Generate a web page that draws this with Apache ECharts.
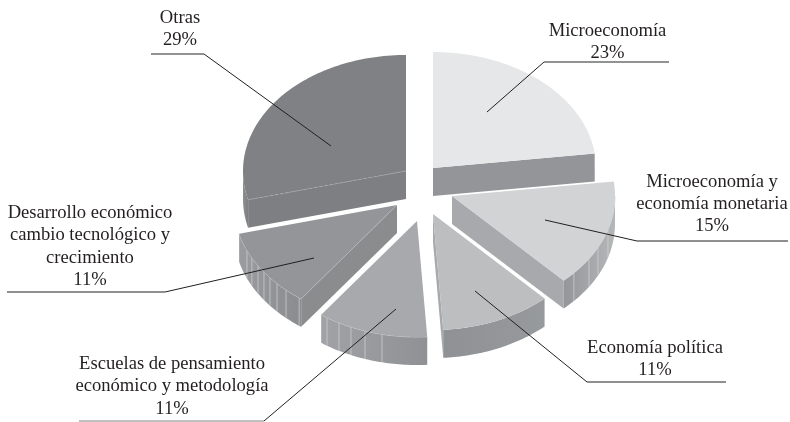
<!DOCTYPE html>
<html>
<head>
<meta charset="utf-8">
<style>html,body{margin:0;padding:0;background:#fff}#chart{width:790px;height:422px}</style>
<script src="https://cdn.jsdelivr.net/npm/echarts@6/dist/echarts.min.js"></script>
</head>
<body>
<div id="chart"></div>
<script>
// clockwise from 12 o'clock
const categories = ["Microeconomía", "Microeconomía y economía monetaria", "Economía política", "Escuelas de pensamiento económico y metodología", "Desarrollo económico cambio tecnológico y crecimiento", "Otras"];
const shares = [23, 15, 11, 11, 11, 29];
const labelLines = [
  ["Microeconomía"],
  ["Microeconomía y", "economía monetaria"],
  ["Economía política"],
  ["Escuelas de pensamiento", "económico y metodología"],
  ["Desarrollo económico", "cambio tecnológico y", "crecimiento"],
  ["Otras"]
];

// look of the tilted pie
const RX = 163, RY = 116, DEPTH = 28;
const apex = [[433, 168], [452, 196], [433, 214], [417, 221], [397, 205], [406, 171]];
const topColors = ["#e6e7e8", "#d1d3d4", "#bcbec0", "#a7a9ac", "#939598", "#808184"];
const cutColors = ["#939598", "#a7a9ac", "#a7a9ac", "#939598", "#8a8c8e", "#7e7f82"];
const arcColors = [["#939598", "#939598"], ["#939598", "#b5b7b9"], ["#8f9194", "#979a9c"], ["#a0a2a5", "#8f9194"], ["#9a9c9f", "#8a8c8e"], ["#8d8e91", "#7e7f82"]];
// seams on the outer wall, degrees clockwise from 12 o'clock
const seams = [[], [106.9, 116.4, 122.8, 131.6], [], [192.4, 198.6, 203.9, 208.6, 213.5], [216.9, 222.9, 227.4, 231.2, 234.7, 238.5, 242.9, 247], []];
const labelPos = [[607.5, 19.5], [712, 170.5], [655, 337], [172, 353], [90, 202], [180, 7]];
const leaders = [
  [[669, 62], [544, 62], [487, 112]],
  [[788, 241], [637, 241], [545, 220]],
  [[726, 382], [587, 382], [475, 291]],
  [[79, 421], [264, 421], [396, 309]],
  [[7, 292], [165, 292], [314, 258]],
  [[151, 54], [204, 54], [331, 146]]
];
const shelfColors = ["#6d6e71", "#231f20", "#231f20", "#808184", "#231f20", "#6d6e71"];
const shelfWidths = [1.6, 1, 1, 1, 1, 1.6];

const total = shares.reduce((a, b) => a + b, 0);
const cum = [0];
shares.forEach((v, i) => cum.push(cum[i] + v));
const toAngle = v => echarts.number.linearMap(v, [0, total], [0, Math.PI * 2]);

function rim(c, a, drop) {
  return [c[0] + RX * Math.sin(a), c[1] - RY * Math.cos(a) + (drop || 0)];
}

function renderSlice(params) {
  const i = params.dataIndex;
  const c = apex[i];
  const a0 = toAngle(cum[i]), a1 = toAngle(cum[i + 1]);
  const children = [];

  // cut faces
  [[a0, Math.sin(a0) < -0.001], [a1, Math.sin(a1) > 0.001]].forEach(e => {
    if (!e[1]) return;
    children.push({
      type: "polygon",
      shape: { points: [c, rim(c, e[0]), rim(c, e[0], DEPTH), [c[0], c[1] + DEPTH]] },
      style: { fill: cutColors[i] }
    });
  });

  // outer wall, only the part turned towards the viewer
  const w0 = Math.max(a0, Math.PI / 2), w1 = Math.min(a1, Math.PI * 1.5);
  if (w1 > w0) {
    const upper = [], lower = [];
    for (let k = 0; k <= 40; k++) {
      const a = w0 + (w1 - w0) * k / 40;
      upper.push(rim(c, a));
      lower.unshift(rim(c, a, DEPTH));
    }
    children.push({
      type: "polygon",
      shape: { points: upper.concat(lower) },
      style: {
        fill: new echarts.graphic.LinearGradient(0, 0, 1, 0, [
          { offset: 0, color: arcColors[i][0] },
          { offset: 1, color: arcColors[i][1] }
        ])
      }
    });
    seams[i].forEach(deg => {
      const a = deg * Math.PI / 180;
      children.push({
        type: "line",
        shape: { x1: rim(c, a)[0], y1: rim(c, a)[1], x2: rim(c, a, DEPTH)[0], y2: rim(c, a, DEPTH)[1] },
        style: { stroke: "#d4d5d7", lineWidth: 0.7 }
      });
    });
    if (seams[i].length) {
      children.push({ type: "polyline", shape: { points: upper }, style: { stroke: "#cfd0d2", lineWidth: 0.7, fill: null } });
    }
  }

  // top face
  const pts = [c];
  for (let k = 0; k <= 80; k++) pts.push(rim(c, a0 + (a1 - a0) * k / 80));
  children.push({ type: "polygon", shape: { points: pts }, style: { fill: topColors[i] } });

  // pale edge where the top meets the front
  if (seams[i].length && Math.sin(a0) < 0) {
    const e = rim(c, a0);
    children.push({ type: "line", shape: { x1: c[0], y1: c[1], x2: e[0], y2: e[1] }, style: { stroke: "#b6b8ba", lineWidth: 0.7 } });
  }
  if (i === shares.length - 1) {
    const e = rim(c, a0);
    children.push({ type: "line", shape: { x1: c[0], y1: c[1], x2: e[0], y2: e[1] }, style: { stroke: "#a9aaad", lineWidth: 0.7, lineDash: [3, 2] } });
  }
  return { type: "group", children: children };
}

const graphics = [];
shares.forEach((v, i) => {
  const p = leaders[i];
  graphics.push({
    type: "line",
    z: 10,
    silent: true,
    shape: { x1: p[0][0], y1: p[0][1], x2: p[1][0], y2: p[1][1] },
    style: { stroke: shelfColors[i], lineWidth: shelfWidths[i] }
  });
  graphics.push({
    type: "line",
    z: 10,
    silent: true,
    shape: { x1: p[1][0], y1: p[1][1], x2: p[2][0], y2: p[2][1] },
    style: { stroke: "#231f20", lineWidth: 1 }
  });
  graphics.push({
    type: "text",
    z: 11,
    silent: true,
    x: labelPos[i][0],
    y: labelPos[i][1],
    style: {
      text: labelLines[i].concat(v + "%").join("\n"),
      align: "center",
      verticalAlign: "top",
      font: '18.6px "Liberation Serif"',
      lineHeight: 22.3,
      fill: "#231f20"
    }
  });
});

const chart = echarts.init(document.getElementById("chart"), null, { renderer: "canvas" });
chart.setOption({
  backgroundColor: "#ffffff",
  animation: false,
  graphic: graphics,
  series: [
    {
      type: "custom",
      coordinateSystem: "none",
      silent: true,
      renderItem: renderSlice,
      data: shares.map((v, i) => ({ name: categories[i], value: v }))
    }
  ]
});
</script>
</body>
</html>
